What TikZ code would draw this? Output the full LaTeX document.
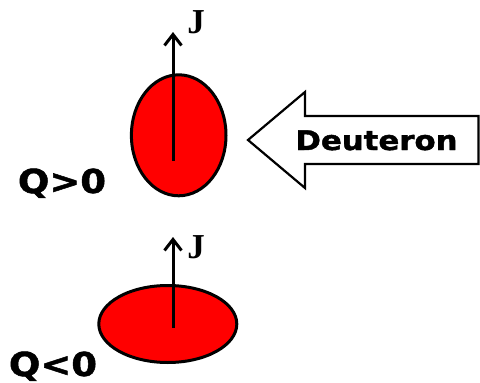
\documentclass[tikz,border=0pt]{standalone}
\usepackage{fontspec}
\usetikzlibrary{arrows.meta,shapes.geometric}
\newfontfamily\qfont[FakeStretch=1.12,FakeBold=1.5]{DejaVu Sans}
\newfontfamily\dfont[FakeStretch=1.14,FakeBold=1.5]{DejaVu Sans}
\newfontfamily\jfont{Liberation Serif}
\tikzset{
  nucleus/.style={ellipse,draw=black,line width=3pt,fill=red,inner sep=0pt},
  spin/.style={line width=3pt,-{Straight Barb[length=11pt,width=17pt]}},
  qlabel/.style={anchor=base,inner sep=0pt,font=\qfont\bfseries\fontsize{33}{33}\selectfont},
  jlabel/.style={anchor=base,inner sep=0pt,font=\jfont\bfseries\fontsize{35}{35}\selectfont}
}

\begin{document}
\begin{tikzpicture}[x=1pt,y=-1pt]
\useasboundingbox (0,0) rectangle (480,383);
\node[nucleus,minimum width=94.6pt,minimum height=121pt] (prolate) at (178.7,135.3) {};
\coordinate (s1) at (173,161);
\coordinate (t1) at (173,32);
\draw[spin] (s1) -- (t1);
\node[jlabel] (j1) at (196,33) {J};
\node[qlabel] (qpos) at (62,193) {Q>0};
\node[nucleus,minimum width=138pt,minimum height=77pt] (oblate) at (167.8,324) {};
\coordinate (s2) at (173,328);
\coordinate (t2) at (173,237);
\draw[spin] (s2) -- (t2);
\node[jlabel] (j2) at (196,258) {J};
\node[qlabel] (qneg) at (53,376) {Q<0};
\draw[line width=2.2pt,fill=white,line join=miter] (248,140) -- (305,92) -- (305,116) -- (478.5,116)
  -- (478.5,164) -- (305,164) -- (305,188) -- cycle;
\node[anchor=base,inner sep=0pt,font=\dfont\bfseries\fontsize{27}{27}\selectfont] (beam) at (376.5,150) {Deuteron};
\end{tikzpicture}
\end{document}
